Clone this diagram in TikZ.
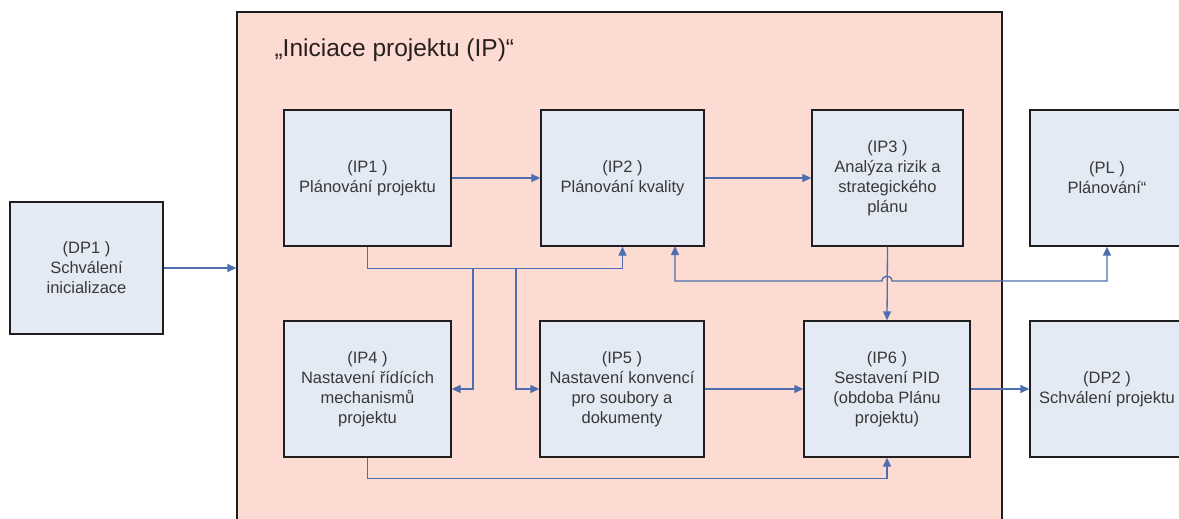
\documentclass[tikz,border=0pt]{standalone}
\usepackage{fontspec}
\setmainfont{Liberation Sans}
\usetikzlibrary{arrows.meta}

\definecolor{phasefill}{HTML}{FCDBD2}
\definecolor{procfill}{HTML}{E4EAF4}
\definecolor{linkblue}{HTML}{4F6EAF}
\definecolor{inktext}{HTML}{383838}
\definecolor{edge}{HTML}{1E1E1E}
\definecolor{titleink}{HTML}{2A2020}

\tikzset{
  proc/.style={draw=edge, line width=1.3pt, fill=procfill, align=center,
    text=inktext, inner sep=0pt,
    font=\fontsize{16.5}{20}\selectfont},
  phase/.style={draw=edge, line width=1.3pt, fill=phasefill, inner sep=0pt},
  conn/.style={draw=linkblue, line width=1.3pt,
    -{Triangle[length=9pt,width=8pt]}},
  twoway/.style={draw=linkblue, line width=1.3pt,
    {Triangle[length=9pt,width=8pt]}-{Triangle[length=9pt,width=8pt]}}
}

\begin{document}
\begin{tikzpicture}[x=1pt,y=-1pt]
\useasboundingbox (0,0) rectangle (1179,519);
\fill[white] (0,0) rectangle (1179,519);

% the initiation phase frame
\node[phase, minimum width=765pt, minimum height=530pt] (ip) at (619.5,277) {};
\node[anchor=west, text=titleink, font=\fontsize{24.5}{28}\selectfont] (title)
  at (271,50) {„Iniciace projektu (IP)“};

% processes
\node[proc, minimum width=153pt, minimum height=132pt] (dp1) at (86.5,268)
  {(DP1 )\\Schválení\\inicializace};
\node[proc, minimum width=167pt, minimum height=136pt] (ip1) at (367.5,178)
  {(IP1 )\\Plánování projektu};
\node[proc, minimum width=163pt, minimum height=136pt] (ip2) at (622.5,178)
  {(IP2 )\\Plánování kvality};
\node[proc, minimum width=151pt, minimum height=136pt] (ip3) at (887.5,178)
  {(IP3 )\\Analýza rizik a\\strategického\\plánu};
\node[proc, minimum width=154pt, minimum height=136pt] (pl) at (1107,178)
  {(PL )\\Plánování“};
\node[proc, minimum width=167pt, minimum height=136pt] (ip4) at (367.5,389)
  {(IP4 )\\Nastavení řídících\\mechanismů\\projektu};
\node[proc, minimum width=164pt, minimum height=136pt] (ip5) at (622,389)
  {(IP5 )\\Nastavení konvencí\\pro soubory a\\dokumenty};
\node[proc, minimum width=166pt, minimum height=136pt] (ip6) at (887,389)
  {(IP6 )\\Sestavení PID\\(obdoba Plánu\\projektu)};
\node[proc, minimum width=154pt, minimum height=136pt] (dp2) at (1107,389)
  {(DP2 )\\Schválení projektu};

% junction points on the distribution line below IP1
\coordinate (tap4) at (473,268);
\coordinate (tap5) at (516,268);
\coordinate (hopL) at (882,281);
\coordinate (hopR) at (892,281);
\coordinate (qin) at (675,246);

% connectors
\draw[conn] (dp1.east) -- (dp1.east -| ip.west);
\draw[conn] (ip1.east) -- (ip2.west);
\draw[conn] (ip2.east) -- (ip3.west);
\draw[conn] (ip1.south) -- ++(0,22) -| (ip2.south);
\draw[conn] (tap4) |- (ip4.east);
\draw[conn] (tap5) |- (ip5.west);
\draw[conn] (ip5.east) -- (ip6.west);
\draw[conn] (ip6.east) -- (dp2.west);
\draw[conn] (ip4.south) -- ++(0,21) -| (ip6.south);
\draw[conn] (ip3.south) -- (ip6.north);
\draw[twoway] (qin) -- (qin |- hopL) -- (hopL)
  .. controls (882,274.5) and (892,274.5) .. (hopR)
  -- (hopR -| pl.south) -- (pl.south);
\end{tikzpicture}
\end{document}
